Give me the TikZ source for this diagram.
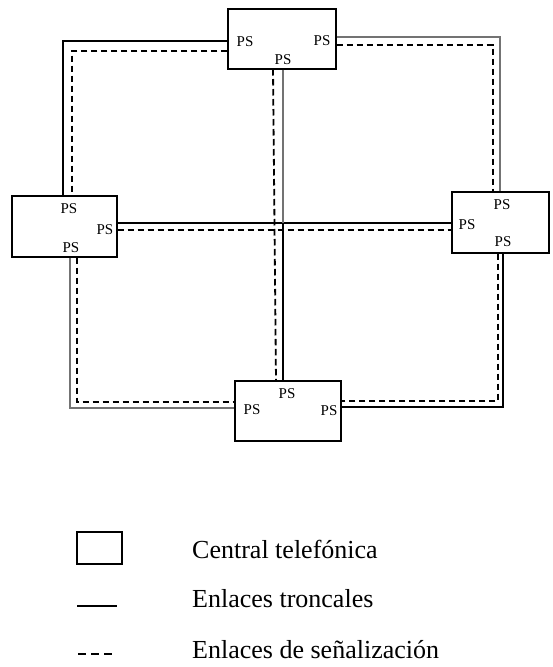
\documentclass[tikz,border=0pt]{standalone}
\usepackage{fontspec}
\setmainfont{Liberation Serif}
\begin{document}
\begin{tikzpicture}[x=1pt,y=-1pt,
  central/.style={draw=black,line width=1.4pt,fill=white,inner sep=0pt},
  pslabel/.style={inner sep=0pt,font=\fontsize{15}{17}\selectfont},
  trunk/.style={line width=1.3pt,black},
  trunkg/.style={line width=1.3pt,black!55},
  sig/.style={line width=1.8pt,black,dash pattern=on 6.5pt off 3.5pt},
  legtext/.style={anchor=base west,inner sep=0pt,font=\fontsize{26}{30}\selectfont}]
\useasboundingbox (0,0) rectangle (552,667);
% corner coordinates
\coordinate (tl) at (63,41);
\coordinate (tld) at (72,51);
\coordinate (tr) at (500,37);
\coordinate (trd) at (493,45);
\coordinate (bl) at (70,408);
\coordinate (bld) at (77,402);
\coordinate (br) at (503,407);
\coordinate (brd) at (498,401);
\coordinate (hs) at (283,223);
\coordinate (hd) at (283,230);
\coordinate (vc) at (283,223);
\coordinate (vdt) at (273,69);
\coordinate (vdb) at (276,381);
% boxes
\node[central,minimum width=108pt,minimum height=60pt] (T) at (282,39) {};
\node[central,minimum width=105pt,minimum height=61pt] (L) at (64.5,226.5) {};
\node[central,minimum width=97pt,minimum height=61pt] (R) at (500.5,222.5) {};
\node[central,minimum width=106pt,minimum height=60pt] (B) at (288,411) {};
% trunk links
\draw[trunk] (T.west|-tl) -- (tl) -- (tl|-L.north);
\draw[trunkg] (T.east|-tr) -- (tr) -- (tr|-R.north);
\draw[trunkg] (L.south-|bl) -- (bl) -- (bl-|B.west);
\draw[trunk] (R.south-|br) -- (br) -- (br-|B.east);
\draw[trunk] (L.east|-hs) -- (R.west|-hs);
\draw[trunkg] (T.south-|vc) -- (vc);
\draw[trunk] (vc) -- (B.north-|vc);
% signalling links
\draw[sig] (T.west|-tld) -- (tld) -- (tld|-L.north);
\draw[sig] (T.east|-trd) -- (trd) -- (trd|-R.north);
\draw[sig] (L.south-|bld) -- (bld) -- (bld-|B.west);
\draw[sig] (R.south-|brd) -- (brd) -- (brd-|B.east);
\draw[sig] (L.east|-hd) -- (R.west|-hd);
\draw[sig] (vdt) -- (vdb);
% PS labels
\node[pslabel] (t1) at (245,42) {PS};
\node[pslabel] (t2) at (322,41) {PS};
\node[pslabel] (t3) at (283,60) {PS};
\node[pslabel] (l1) at (69,209) {PS};
\node[pslabel] (l2) at (105,230) {PS};
\node[pslabel] (l3) at (71,248) {PS};
\node[pslabel] (r1) at (502,205) {PS};
\node[pslabel] (r2) at (467,225) {PS};
\node[pslabel] (r3) at (503,242) {PS};
\node[pslabel] (b1) at (287,394) {PS};
\node[pslabel] (b2) at (252,410) {PS};
\node[pslabel] (b3) at (329,411) {PS};
% legend
\node[draw=black,line width=1.2pt,minimum width=45pt,minimum height=32pt,inner sep=0pt] (legbox) at (99.5,548) {};
\coordinate (ls1) at (77,606);
\coordinate (ls2) at (117,606);
\coordinate (ld1) at (78,654);
\coordinate (ld2) at (116,654);
\draw[line width=1.3pt] (ls1) -- (ls2);
\draw[line width=1.2pt,dash pattern=on 8pt off 5pt] (ld1) -- (ld2);
\node[legtext] (lt1) at (192,558) {Central telefónica};
\node[legtext] (lt2) at (192,607) {Enlaces troncales};
\node[legtext] (lt3) at (192,658) {Enlaces de señalización};
\end{tikzpicture}
\end{document}
